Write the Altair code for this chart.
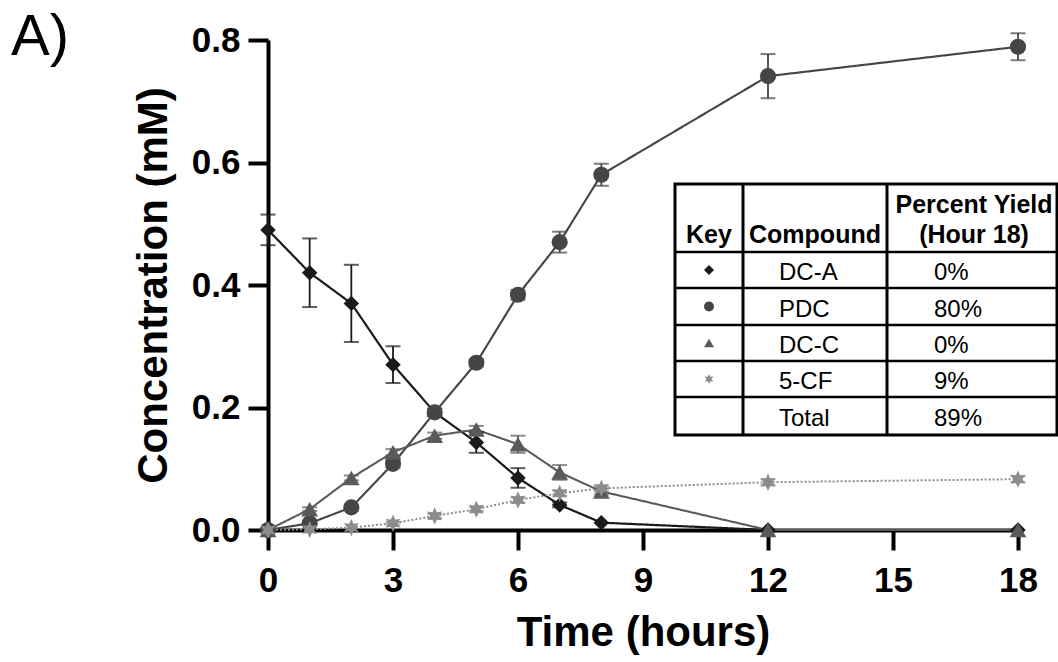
import altair as alt
import pandas as pd
import numpy as np

# ---------------- data ----------------
series = ["DC-A", "PDC", "DC-C", "5-CF"]
hours = [0, 1, 2, 3, 4, 5, 6, 7, 8, 12, 18]
dca = [0.49, 0.42, 0.37, 0.27, 0.192, 0.143, 0.085, 0.041, 0.012, 0.0, 0.0]
dca_err = [0.025, 0.056, 0.063, 0.030, 0.006, 0.017, 0.016, 0.004, 0.0, 0.0, 0.0]
pdc = [0.0, 0.011, 0.037, 0.108, 0.192, 0.273, 0.384, 0.47, 0.58, 0.741, 0.789]
pdc_err = [0.0, 0.003, 0.004, 0.006, 0.006, 0.006, 0.008, 0.017, 0.018, 0.036, 0.022]
dcc = [0.0, 0.034, 0.085, 0.127, 0.154, 0.164, 0.140, 0.094, 0.063, 0.0, 0.0]
dcc_err = [0.0, 0.003, 0.004, 0.005, 0.005, 0.006, 0.014, 0.012, 0.005, 0.0, 0.0]
cf = [0.0, 0.001, 0.004, 0.011, 0.023, 0.034, 0.049, 0.060, 0.068, 0.078, 0.083]
cf_err = [0.0, 0.0, 0.0, 0.002, 0.003, 0.003, 0.004, 0.004, 0.004, 0.005, 0.005]

x_ticks = [0, 3, 6, 9, 12, 15, 18]
y_ticks = [0.0, 0.2, 0.4, 0.6, 0.8]

table_header = ["Key", "Compound", "Percent Yield", "(Hour 18)"]
table_compounds = ["DC-A", "PDC", "DC-C", "5-CF", "Total"]
table_yields = ["0%", "80%", "0%", "9%", "89%"]
table_keys = ["DC-A", "PDC", "DC-C", "5-CF"]

# ---------------- styles ----------------
FONT = "Liberation Sans"
colors = ["#1a1a1a", "#454545", "#5a5a5a", "#8c8c8c"]
pts = []
for k in range(12):
    ang = np.pi / 2 + k * np.pi / 6
    rad = 1.0 if k % 2 == 0 else 0.5
    pts.append((rad * np.cos(ang), -rad * np.sin(ang)))
star = "M" + " L".join(f"{px:.3f},{py:.3f}" for px, py in pts) + " Z"
shapes = ["diamond", "circle", "triangle-up", star]
sizes = [240, 300, 230, 520]
dashes = [[1, 0], [1, 0], [1, 0], [2, 2]]
widths = [2.2, 2.0, 1.6, 1.6]

rows = []
for name, vals, errs in zip(series, [dca, pdc, dcc, cf], [dca_err, pdc_err, dcc_err, cf_err]):
    for h, v, e in zip(hours, vals, errs):
        rows.append({"series": name, "hour": h, "value": v, "err": e})
df = pd.DataFrame(rows)

color_scale = alt.Scale(domain=series, range=colors)
x_enc = alt.X(
    "hour:Q",
    scale=alt.Scale(domain=[0, 18], nice=False, zero=False),
    axis=alt.Axis(values=x_ticks, title="Time (hours)", labelPadding=13, titlePadding=14,
                  labelFlush=False),
)
y_enc = alt.Y(
    "value:Q",
    scale=alt.Scale(domain=[0, 0.8], nice=False),
    axis=alt.Axis(values=y_ticks, format=".1f", title="Concentration (mM)", labelPadding=8,
                  titlePadding=16, labelFlush=False),
)
col = alt.Color("series:N", scale=color_scale, legend=None)

base = alt.Chart(df)
lines = base.mark_line().encode(
    x=x_enc, y=y_enc, color=col,
    strokeDash=alt.StrokeDash("series:N", scale=alt.Scale(domain=series, range=dashes), legend=None),
    strokeWidth=alt.StrokeWidth("series:N", scale=alt.Scale(domain=series, range=widths), legend=None),
    detail="series:N",
)
err_base = base.transform_filter("datum.err > 0").transform_calculate(
    lo="datum.value - datum.err", hi="datum.value + datum.err"
)
err_rule = err_base.mark_rule(strokeWidth=1.8).encode(
    x="hour:Q", y="lo:Q", y2="hi:Q", color=col
)
err_lo = err_base.mark_tick(orient="horizontal", size=15, thickness=2).encode(
    x="hour:Q", y="lo:Q", color=col
)
err_hi = err_base.mark_tick(orient="horizontal", size=15, thickness=2).encode(
    x="hour:Q", y="hi:Q", color=col
)
points = base.mark_point(filled=True, opacity=1).encode(
    x="hour:Q", y="value:Q", color=col,
    shape=alt.Shape("series:N", scale=alt.Scale(domain=series, range=shapes), legend=None),
    size=alt.Size("series:N", scale=alt.Scale(domain=series, range=sizes), legend=None),
)

# ---------------- table (pixel layout inside plot area) ----------------
TL, C1, C2, TR = 407, 475, 619, 789
TT, HB, TB = 144, 212, 395
row_lines = [248, 285, 321, 357]
row_edges = [HB] + row_lines + [TB]
row_mid = [(a + b) / 2 for a, b in zip(row_edges[:-1], row_edges[1:])]

px = lambda f: alt.X(f, scale=None, axis=None)
py = lambda f: alt.Y(f, scale=None, axis=None)

box = alt.Chart(pd.DataFrame({"x": [TL], "x2": [TR], "y": [TT], "y2": [TB]})).mark_rect(
    fill="white", stroke="black", strokeWidth=3
).encode(x=px("x:Q"), x2="x2:Q", y=py("y:Q"), y2="y2:Q")
vlines = alt.Chart(pd.DataFrame({"x": [C1, C2], "y": [TT, TT], "y2": [TB, TB]})).mark_rule(
    color="black", strokeWidth=3
).encode(x=px("x:Q"), y=py("y:Q"), y2="y2:Q")
hl = [HB] + row_lines
hlines = alt.Chart(pd.DataFrame({"y": hl, "x": [TL] * len(hl), "x2": [TR] * len(hl)})).mark_rule(
    color="black", strokeWidth=2.5
).encode(x=px("x:Q"), x2="x2:Q", y=py("y:Q"))

hdr = pd.DataFrame({
    "t": table_header,
    "x": [(TL + C1) / 2, (C1 + C2) / 2, (C2 + TR) / 2 + 2, (C2 + TR) / 2 + 2],
    "y": [HB - 9, HB - 9, HB - 39, HB - 9],
})
hdr_text = alt.Chart(hdr).mark_text(
    font=FONT, fontSize=25, fontWeight="bold", align="center", baseline="alphabetic", color="black"
).encode(x=px("x:Q"), y=py("y:Q"), text="t:N")

comp_df = pd.DataFrame({"t": table_compounds, "x": [C1 + 36] * 5, "y": row_mid})
comp_text = alt.Chart(comp_df).mark_text(
    font=FONT, fontSize=24, align="left", baseline="middle", color="black", dy=3
).encode(x=px("x:Q"), y=py("y:Q"), text="t:N")
yld_df = pd.DataFrame({"t": table_yields, "x": [C2 + 47] * 5, "y": row_mid})
yld_text = alt.Chart(yld_df).mark_text(
    font=FONT, fontSize=24, align="left", baseline="middle", color="black", dy=3
).encode(x=px("x:Q"), y=py("y:Q"), text="t:N")

key_df = pd.DataFrame({"series": table_keys, "x": [(TL + C1) / 2] * 4, "y": row_mid[:4]})
key_pts = alt.Chart(key_df).mark_point(filled=True, opacity=1, size=100).encode(
    x=px("x:Q"), y=py("y:Q"), color=col,
    shape=alt.Shape("series:N", scale=alt.Scale(domain=series, range=shapes), legend=None),
)

panel = alt.Chart(pd.DataFrame({"t": ["A)"]})).mark_text(
    font=FONT, fontSize=58, align="left", baseline="alphabetic", color="black"
).encode(text="t:N", x=alt.value(-257), y=alt.value(15))

chart = alt.layer(
    lines, err_rule, err_lo, err_hi, points,
    box, vlines, hlines, hdr_text, comp_text, yld_text, key_pts, panel,
).properties(
    width=750, height=490,
    padding={"left": 268, "top": 40, "right": 40, "bottom": 132},
    autosize=alt.AutoSizeParams(type="none"),
    background="white",
).configure_view(stroke=None).configure_axis(
    grid=False,
    domainColor="black", domainWidth=4,
    tickColor="black", tickWidth=4, tickSize=20,
    labelFont=FONT, labelFontSize=35, labelFontWeight="bold", labelColor="black",
    titleFont=FONT, titleFontSize=42, titleFontWeight="bold", titleColor="black",
)

chart.save("out.html", embed_options={"renderer": "svg", "actions": False})
